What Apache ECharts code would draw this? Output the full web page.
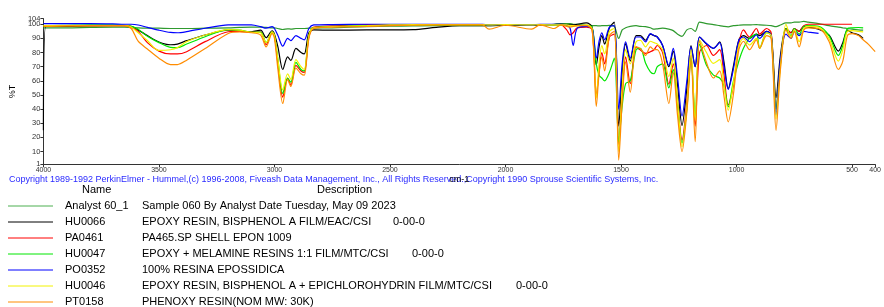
<!DOCTYPE html>
<html>
<head>
<meta charset="utf-8">
<script src="https://cdn.jsdelivr.net/npm/echarts@6/dist/echarts.min.js"></script>
<style>
    html, body {margin: 0; padding: 0; background: #fff;}
    #chart {width: 884px; height: 307px;}
</style>
</head>
<body>
<div id="chart"></div>
<script>
// wavenumber grid (cm-1), shared by every spectrum
var wavenumbers = [
    4000, 3990, 3900, 3800, 3700, 3650,
    3620, 3590, 3550, 3500, 3450, 3420, 3380, 3300, 3200, 3150, 3100,
    3060, 3036, 3010, 3000, 2985, 2964, 2943, 2929, 2907, 2885, 2871, 2851, 2830,
    2750, 2600, 2500, 2400, 2300, 2200, 2100, 2071, 2000, 1887, 1850, 1790, 1760,
    1735, 1720, 1707, 1690, 1650, 1625, 1607, 1595, 1583, 1571, 1550, 1529, 1510, 1495, 1480, 1460, 1435,
    1416, 1394, 1373, 1357, 1343, 1320, 1293, 1274, 1255, 1236, 1215, 1197, 1179, 1160, 1130, 1100, 1073, 1055, 1036, 1014, 990, 970,
    944, 914, 900, 870, 850, 829, 810, 786, 764, 750, 729, 709, 690, 645, 600, 559, 540, 520, 500, 472, 452, 430, 400
];

var analyst60 = [
    97.5, 97.5, 97.5, 97.8, 98, 98,
    97.8, 97.5, 97.3, 97.2, 97, 97, 97, 97.2, 97.5, 97.8, 98,
    98, 97.8, 97.5, 97.5, 97, 96.3, 96.8, 96.6, 97, 97, 97, 97.2, 97.3,
    97.5, 98.3, 98.6, 98.8, 99, 99, 99, 99, 99.2, 99.3, 99.5, 100, 100.5,
    100.5, 100.5, 100, 100, 99.3, 99, 99, 98.8, 99, 99, 99.2, 98.5, 90, 96, 97.5, 98.5, 99,
    98.5, 98.3, 97.5, 96.5, 96.8, 97.2, 96.5, 95.5, 93, 91.5, 96, 97, 95, 101.5, 100.5, 99.8, 99, 98.5, 98.2, 99, 99.3, 99.5,
    99.5, 99.8, 99.5, 99.3, 99, 98.3, 99.5, 101, 101, 101.5, 101.5, 102, 101.5, 100.5, 99, 98, 97.5, 97, 96.5, 96, 95.8, null, null
];

var hu0066 = [
    25, 98.5, 98.5, 98.8, 99, 99,
    98.5, 96, 92, 87.5, 85.5, 86, 88.4, 92.4, 95.8, 95.3, 94.7,
    95.8, 90.5, 95.3, 93, 84, 68, 77, 74.5, 83, 80, 79, 94, 96,
    95.8, 96, 96, 96.2, 97.8, 99, 99, 99, 99.2, 99.3, 99.5, 99.8, 100,
    99.8, 99.5, 99.5, 100, 101, 98, 71, 84, 92, 86, 97.5, 101.5, 28, 65, 86.3, 74, 92,
    92, 88.7, 93, 92, 91, 85, 70, 81, 57, 28.5, 55, 85, 70, 91, 86, 83, 87.5, 74, 54.5, 70, 89, 92,
    90, 93, 92, 95, 93, 48, 78, 97, 94, 97, 95, 98.5, 98, 96.5, 92.4, 81, 87, 95.8, 94, 92.5, 90, null, null
];

var pa0461 = [
    99, 99, 99, 99, 99, 99,
    98, 95, 87, 81, 79, 79, 80.6, 87.7, 94.7, 95, 94.3,
    94.5, 85.5, 94.6, 92, 72, 48.5, 62, 57, 71, 67, 66, 91, 98,
    98.8, 99.8, 99.8, 99.8, 99.8, 99.8, 99.8, 99.5, 99.8, 99.5, 99.8, 99.5, 99.5,
    96, 92.5, 94, 97.5, 98, 96, 50, 66, 80, 72, 91, 93, 15, 50, 77, 58, 84,
    81.8, 79.4, 80.6, 82, 85, 80, 57.6, 72, 45, 18, 45, 78, 28, 80, 85, 78, 82, 65, 43, 56, 86, 96,
    91, 97, 93, 97, 94, 40, 72, 97, 94, 97, 95, 99, 100, 100, 100, 100, 100, 100, 100, null, null, null, null
];

var hu0047 = [
    99, 99, 99.2, 99.5, 99.5, 99.3,
    98.5, 96.5, 91.5, 87, 83.7, 83.5, 86, 91.2, 96.2, 95.8, 94.3,
    94.5, 87, 94.6, 92, 75, 51, 62, 59, 73, 68, 67, 92, 97.5,
    98.5, 99, 99.3, 99.5, 99.5, 99.5, 99.5, 99.5, 99.8, 99.5, 99.8, 99.5, 99.5,
    99.3, 99, 99, 99, 99, 98, 72, 64, 62, 60, 66, 76, 17, 42, 58, 60, 82,
    83, 72.6, 66.4, 65, 70, 72, 55, 68, 42, 16, 40, 76, 35, 86, 71, 64, 62, 57, 41.6, 59.5, 74, 83,
    90, 93, 83, 94, 92, 40, 72, 97, 92, 97, 93, 98.5, 99, 98.5, 92, 78, 85, 97, 97.5, 97.7, 97.5, null, null
];

var po0352 = [
    100.5, 100.5, 100.5, 100.5, 100.3, 100,
    100, 99.5, 97.8, 95.8, 94.2, 94, 94.8, 97.2, 99.5, 99.6, 99.5,
    98.3, 97.2, 98.3, 97, 92, 84.5, 90, 88.5, 92, 90, 89, 97, 99.5,
    99.8, 100, 100, 100, 100, 100, 100, 99.5, 99.8, 99.5, 100, 100, 100,
    99.5, 97, 85, 97, 98.5, 97, 76, 88, 94, 89, 98, 99, 40, 72, 87.5, 76, 91,
    91, 87.5, 93.4, 92, 91, 85, 71, 83, 62, 35, 60, 84, 70, 91, 86.4, 83, 87, 71, 54, 68, 88.7, 91,
    87.7, 92.4, 90, 95, 92, 36, 75, 93, 90, 95, 92, 95, 94.5, 93.5, null, null, null, null, null, null, null, null, null
];

var hu0046 = [
    99, 99, 99, 99, 99, 99,
    98, 94, 88.5, 81.5, 82, 83.5, 87.7, 92.4, 96.2, 95.8, 94.3,
    94, 87, 94.6, 92, 75, 53.5, 65, 61, 75, 70, 68, 92, 97.5,
    98.3, 99, 99.5, 99.7, 99.8, 99.8, 99.8, 99.5, 99.8, 99.5, 99.8, 99.5, 99.5,
    99.5, 99, 99, 99, 99.5, 97, 48, 72, 85, 79, 95, 97, 10, 55, 82, 72, 87.5,
    88.7, 84, 88, 87, 86, 82, 63, 76, 45, 13.4, 42, 82, 32, 89, 80, 72.4, 75, 58, 39.3, 58, 85, 90,
    85.4, 90, 83, 94, 92, 33, 70, 100, 91, 96, 87.7, 97, 98.5, 98, 90, 74, 82, 95, 95.5, 95, 94.6, null, null
];

var pt0158 = [
    98.5, 98.5, 98.8, 99, 99, 99,
    97, 88, 82.5, 76, 71.5, 71.5, 74.6, 82.8, 93.5, 94.6, 94,
    92.4, 84, 93.5, 90, 68, 44, 61, 56, 69, 65, 64, 90, 97,
    98, 98.5, 99, 99.3, 99.5, 99.5, 99.5, 96.5, 99.3, 96.5, 99.5, 97, 99.5,
    98.5, 98, 98.5, 99, 99, 96, 42, 65, 77, 67, 92, 95, 4, 45, 73.6, 52, 84,
    82.8, 78, 84, 82, 82, 72, 44, 66, 35, 10, 38, 75, 17, 88, 73, 62, 67, 50, 31, 50, 82, 88,
    82, 89, 83, 92, 90, 25, 68, 96, 90, 95, 84, 96, 97.5, 97, 88, 68, 74, 92, 93.4, 92, 89, 86, 80.6
];

var seriesNames = ['Analyst 60_1', 'HU0066', 'PA0461', 'HU0047', 'PO0352', 'HU0046', 'PT0158'];
var descriptions = [
    'Sample 060 By Analyst Date Tuesday, May 09 2023',
    'EPOXY RESIN, BISPHENOL A FILM/EAC/CSI',
    'PA465.SP SHELL EPON 1009',
    'EPOXY + MELAMINE RESINS 1:1 FILM/MTC/CSI',
    '100% RESINA EPOSSIDICA',
    'EPOXY RESIN, BISPHENOL A + EPICHLOROHYDRIN FILM/MTC/CSI',
    'PHENOXY RESIN(NOM MW: 30K)'
];
var casCodes = ['', '0-00-0', '', '0-00-0', '', '0-00-0', ''];
var xTicks = [4000, 3500, 3000, 2500, 2000, 1500, 1000, 500, 400];
var yTicks = [1, 10, 20, 30, 40, 50, 60, 70, 80, 90, 100];
var yTopTick = [104];
var copyrightText = 'Copyright 1989-1992 PerkinElmer - Hummel,(c) 1996-2008, Fiveash Data Management, Inc., All Rights Reserved.,Copyright 1990 Sprouse Scientific Systems, Inc.';

var spectra = [analyst60, hu0066, pa0461, hu0047, po0352, hu0046, pt0158];
var colors = ['#2f9a2f', '#000000', '#ff0000', '#00e600', '#0000ff', '#f2f200', '#ff8c00'];
var legendColors = ['#4caf50', '#000000', '#ff0000', '#00e600', '#0000ff', '#f2f200', '#ff8c00'];
var FONT = '"Liberation Sans", Arial, sans-serif';

function pairs(values) {
    return wavenumbers.map(function (w, i) {
        return [w, values[i]];
    });
}

var chart = echarts.init(document.getElementById('chart'), null, {renderer: 'canvas'});

var series = spectra.map(function (values, i) {
    return {
        name: seriesNames[i],
        type: 'line',
        data: pairs(values),
        showSymbol: false,
        smooth: 0.3,
        connectNulls: false,
        animation: false,
        lineStyle: {color: colors[i], width: 1.2},
        itemStyle: {color: colors[i]}
    };
});

// legend table drawn under the plot
var graphics = [
    {type: 'text', left: 9, top: 175, style: {text: copyrightText, fill: '#2b2bff', font: '9px ' + FONT}},
    {type: 'text', left: 82, top: 184, style: {text: 'Name', fill: '#000', font: '11px ' + FONT}},
    {type: 'text', left: 317, top: 184, style: {text: 'Description', fill: '#000', font: '11px ' + FONT}}
];
var codeLeft = {1: 393, 3: 412, 5: 516};
seriesNames.forEach(function (name, i) {
    var y = 205 + i * 16;
    graphics.push({type: 'line', shape: {x1: 8, y1: y + 1, x2: 53, y2: y + 1}, style: {stroke: legendColors[i], lineWidth: 1}});
    graphics.push({type: 'text', left: 65, top: y - 5, style: {text: name, fill: '#000', font: '11px ' + FONT}});
    graphics.push({type: 'text', left: 142, top: y - 5, style: {text: descriptions[i], fill: '#000', font: '11px ' + FONT}});
    if (casCodes[i]) {
        graphics.push({type: 'text', left: codeLeft[i], top: y - 5, style: {text: casCodes[i], fill: '#000', font: '11px ' + FONT}});
    }
});

function yAxisDef(ticks, showLine, name) {
    return {
        type: 'value',
        min: 1,
        max: 104,
        position: 'left',
        name: name,
        nameLocation: 'middle',
        nameGap: 25,
        nameTextStyle: {color: '#000', fontSize: 9, fontFamily: FONT},
        axisLine: {show: showLine, lineStyle: {color: '#333', width: 1}},
        axisTick: {show: true, length: 3, lineStyle: {color: '#333'}, customValues: ticks},
        axisLabel: {
            customValues: ticks, fontSize: 7.5, color: '#333', margin: 3, fontFamily: FONT,
            hideOverlap: false, showMinLabel: true, showMaxLabel: true,
            formatter: function (v) { return String(v); }
        },
        splitLine: {show: false}
    };
}

var option = {
    animation: false,
    backgroundColor: '#fff',
    grid: {left: 40, right: 3.5, top: 18.6, bottom: 142.7, containLabel: false},
    xAxis: {
        type: 'value',
        inverse: true,
        min: 400,
        max: 4000,
        name: 'cm-1',
        nameLocation: 'middle',
        nameGap: 11,
        nameTextStyle: {color: '#000', fontSize: 9, fontFamily: FONT},
        axisLine: {lineStyle: {color: '#333', width: 1}},
        axisTick: {length: 3, lineStyle: {color: '#333'}, customValues: xTicks},
        axisLabel: {
            customValues: xTicks, fontSize: 7, color: '#333', margin: 2, fontFamily: FONT,
            hideOverlap: false, showMinLabel: true, showMaxLabel: true,
            formatter: function (v) { return String(v); }
        },
        splitLine: {show: false}
    },
    // second left axis only carries the "104" label, which the first axis would hide as overlapping
    yAxis: [yAxisDef(yTicks, true, '%T'), yAxisDef(yTopTick, false, '')],
    series: series,
    graphic: graphics
};
chart.setOption(option);
</script>
</body>
</html>
